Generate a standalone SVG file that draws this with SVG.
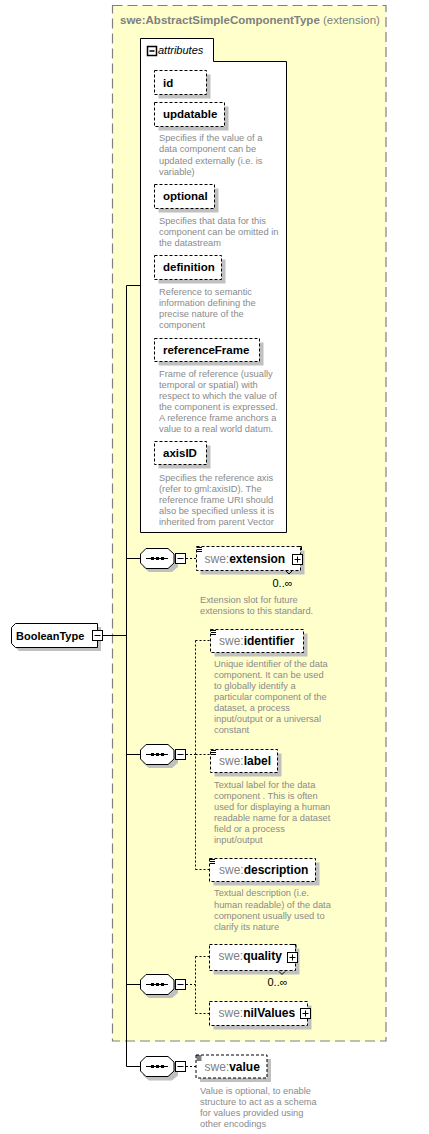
<svg xmlns="http://www.w3.org/2000/svg" width="429" height="1134" viewBox="0 0 429 1134">
<defs>
<style>
text{font-family:"Liberation Sans",Arial,sans-serif}
.title{font-size:11.5px;fill:#808080}
.tb{font-weight:bold}
.doc{font-size:9.3px;fill:#8a8a8a}
.att{font-size:11.5px;font-weight:bold;fill:#000}
.el{font-size:12px}
.pre{fill:#808080}
.nm{font-weight:bold;fill:#000}
.occ{font-size:11px;fill:#000}
.box{fill:#fff;stroke:#000;stroke-width:1;stroke-dasharray:3 2}
.sh{fill:#c0c0c0}
.solid{fill:none;stroke:#000;stroke-width:1}
.dash{fill:none;stroke:#000;stroke-width:1;stroke-dasharray:2 2}
.icon{fill:#fff;stroke:#000;stroke-width:1}
</style>
<g id="seq">
<polygon points="4,4 38,4 38,20 4,20" fill="none"/>
</g>
</defs>
<rect width="429" height="1134" fill="#fff"/>

<g id="extension-region">
<rect x="112.5" y="5.5" width="273.5" height="1035.5" fill="#ffffcc" stroke="#808080" stroke-width="1.2" stroke-dasharray="10 5"/>
<text class="title" x="120" y="24"><tspan class="tb">swe:AbstractSimpleComponentType</tspan> (extension)</text>
</g>

<g id="connectors">
<path class="solid" d="M102.5,635.5 H126.5 M126.5,285.5 V1066.5 M126.5,285.5 H140 M126.5,558.5 H140 M126.5,754.5 H140 M126.5,984.5 H140 M126.5,1066.5 H140"/>
<path class="dash" d="M186,558.5 H196"/>
<path class="dash" d="M186,754.5 H195.5 M195.5,640.5 V869.5 M195.5,640.5 H210 M195.5,754.5 H210 M195.5,869.5 H209.5"/>
<path class="dash" d="M186,984.5 H195.5 M195.5,956.5 V1013.5 M195.5,956.5 H209.5 M195.5,1013.5 H209.5"/>
<path class="dash" d="M186,1066.5 H196"/>
</g>

<g id="BooleanType">
<path class="sh" d="M19,627 H101 V651 H19 L15,647 V631 Z"/>
<path d="M15.5,623.5 H97.5 V647.5 H15.5 L11.5,643.5 V627.5 Z" fill="#fff" stroke="#000"/>
<text x="16" y="639.5" font-size="11" font-weight="bold">BooleanType</text>
<rect class="icon" x="92.5" y="630.5" width="10" height="10"/>
<path class="solid" d="M94.5,635.5 H100.5"/>
</g>

<g id="attributes">
<path d="M140.5,38.5 H213.5 V61.5 H286.5 V532.5 H140.5 Z" fill="#fff" stroke="#000"/>
<rect x="147.5" y="46.5" width="9" height="9" fill="#fff" stroke="#000" stroke-width="1.5"/>
<path d="M149.5,51 H154.5" stroke="#000" stroke-width="1.5"/>
<text x="158" y="54" font-size="11" font-style="italic">attributes</text>
</g>

<g id="attr-id">
<rect class="sh" x="158.5" y="74.5" width="52" height="24"/>
<rect class="box" x="154.5" y="70.5" width="52" height="24"/>
<text class="att" x="163" y="86.5">id</text>
</g>

<g id="attr-updatable">
<rect class="sh" x="158.5" y="106.5" width="70" height="24"/>
<rect class="box" x="154.5" y="102.5" width="70" height="24"/>
<text class="att" x="163" y="118">updatable</text>
<text class="doc" x="159"><tspan x="159" y="141">Specifies if the value of a</tspan><tspan x="159" y="152">data component can be</tspan><tspan x="159" y="163.5">updated externally (i.e. is</tspan><tspan x="159" y="175">variable)</tspan></text>
</g>

<g id="attr-optional">
<rect class="sh" x="158.5" y="188.5" width="60" height="24"/>
<rect class="box" x="154.5" y="184.5" width="60" height="24"/>
<text class="att" x="163" y="200">optional</text>
<text class="doc"><tspan x="159" y="224">Specifies that data for this</tspan><tspan x="159" y="235">component can be omitted in</tspan><tspan x="159" y="246">the datastream</tspan></text>
</g>

<g id="attr-definition">
<rect class="sh" x="158.5" y="259.5" width="67" height="24"/>
<rect class="box" x="154.5" y="255.5" width="67" height="24"/>
<text class="att" x="163" y="271">definition</text>
<text class="doc"><tspan x="159" y="295">Reference to semantic</tspan><tspan x="159" y="306">information defining the</tspan><tspan x="159" y="317">precise nature of the</tspan><tspan x="159" y="328">component</tspan></text>
</g>

<g id="attr-referenceFrame">
<rect class="sh" x="158.5" y="342.5" width="105" height="23"/>
<rect class="box" x="154.5" y="338.5" width="105" height="23"/>
<text class="att" x="163" y="353.5">referenceFrame</text>
<text class="doc"><tspan x="159" y="377">Frame of reference (usually</tspan><tspan x="159" y="388">temporal or spatial) with</tspan><tspan x="159" y="399">respect to which the value of</tspan><tspan x="159" y="410">the component is expressed.</tspan><tspan x="159" y="421">A reference frame anchors a</tspan><tspan x="159" y="432">value to a real world datum.</tspan></text>
</g>

<g id="attr-axisID">
<rect class="sh" x="158.5" y="445.5" width="52" height="23"/>
<rect class="box" x="154.5" y="441.5" width="52" height="23"/>
<text class="att" x="163" y="457">axisID</text>
<text class="doc"><tspan x="159" y="481">Specifies the reference axis</tspan><tspan x="159" y="492">(refer to gml:axisID). The</tspan><tspan x="159" y="503">reference frame URI should</tspan><tspan x="159" y="514">also be specified unless it is</tspan><tspan x="159" y="525">inherited from parent Vector</tspan></text>
</g>

<g id="sequence-1">
<polygon class="sh" points="149,552 172,552 178,558 178,567 172,572 149,572 143,567 143,558"/>
<polygon points="146,548.5 168,548.5 174,554 174,563 168,568.5 146,568.5 140.5,563 140.5,554" fill="#fff" stroke="#000"/>
<path class="solid" d="M146,558.5 H168"/>
<rect x="151" y="557" width="3" height="3"/><rect x="156" y="557" width="3" height="3"/><rect x="161" y="557" width="3" height="3"/>
<rect class="icon" x="175.5" y="553.5" width="10" height="10"/>
<path class="solid" d="M177.5,558.5 H183.5"/>
</g>

<g id="el-extension">
<rect class="sh" x="200.5" y="550.5" width="104" height="24"/>
<rect class="box" x="196.5" y="546.5" width="104" height="24"/>
<path class="solid" d="M297,546.5 H301.5 V550 M286,571 L289,574 L292,571"/>
<path class="solid" d="M197,547.5 H202 M197,549.5 H202 M197,551.5 H202"/>
<text class="el" x="204.5" y="562.5"><tspan class="pre">swe:</tspan><tspan class="nm">extension</tspan></text>
<rect class="icon" x="292.5" y="554.5" width="10" height="10"/>
<path class="solid" d="M294.5,559.5 H300.5 M297.5,556.5 V562.5"/>
<text class="occ" x="272.5" y="587">0..∞</text>
<text class="doc"><tspan x="200" y="603">Extension slot for future</tspan><tspan x="200" y="614">extensions to this standard.</tspan></text>
</g>

<g id="sequence-2">
<polygon class="sh" points="149,748 172,748 178,754 178,763 172,768 149,768 143,763 143,754"/>
<polygon points="146,744.5 168,744.5 174,750 174,759 168,764.5 146,764.5 140.5,759 140.5,750" fill="#fff" stroke="#000"/>
<path class="solid" d="M146,754.5 H168"/>
<rect x="151" y="753" width="3" height="3"/><rect x="156" y="753" width="3" height="3"/><rect x="161" y="753" width="3" height="3"/>
<rect class="icon" x="175.5" y="749.5" width="10" height="10"/>
<path class="solid" d="M177.5,754.5 H183.5"/>
</g>

<g id="el-identifier">
<rect class="sh" x="214.5" y="633.5" width="93" height="23"/>
<rect class="box" x="210.5" y="629.5" width="93" height="23"/>
<path class="solid" d="M211,630.5 H216 M211,632.5 H216 M211,634.5 H216"/>
<text class="el" x="219" y="645"><tspan class="pre">swe:</tspan><tspan class="nm">identifier</tspan></text>
<text class="doc"><tspan x="214" y="667">Unique identifier of the data</tspan><tspan x="214" y="678">component. It can be used</tspan><tspan x="214" y="689">to globally identify a</tspan><tspan x="214" y="700">particular component of the</tspan><tspan x="214" y="711">dataset, a process</tspan><tspan x="214" y="722">input/output or a universal</tspan><tspan x="214" y="733">constant</tspan></text>
</g>

<g id="el-label">
<rect class="sh" x="214.5" y="753.5" width="67" height="23"/>
<rect class="box" x="210.5" y="749.5" width="67" height="23"/>
<path class="solid" d="M211,750.5 H216 M211,752.5 H216 M211,754.5 H216"/>
<text class="el" x="219" y="764.5"><tspan class="pre">swe:</tspan><tspan class="nm">label</tspan></text>
<text class="doc"><tspan x="214" y="788">Textual label for the data</tspan><tspan x="214" y="799">component . This is often</tspan><tspan x="214" y="810">used for displaying a human</tspan><tspan x="214" y="821">readable name for a dataset</tspan><tspan x="214" y="832">field or a process</tspan><tspan x="214" y="843">input/output</tspan></text>
</g>

<g id="el-description">
<rect class="sh" x="213.5" y="862.5" width="106" height="23"/>
<rect class="box" x="209.5" y="858.5" width="106" height="23"/>
<path class="solid" d="M210,859.5 H215 M210,861.5 H215 M210,863.5 H215"/>
<text class="el" x="219" y="873.5"><tspan class="pre">swe:</tspan><tspan class="nm">description</tspan></text>
<text class="doc"><tspan x="214" y="896">Textual description (i.e.</tspan><tspan x="214" y="908">human readable) of the data</tspan><tspan x="214" y="919">component usually used to</tspan><tspan x="214" y="930">clarify its nature</tspan></text>
</g>

<g id="sequence-3">
<polygon class="sh" points="149,978 172,978 178,984 178,993 172,998 149,998 143,993 143,984"/>
<polygon points="146,974.5 168,974.5 174,980 174,989 168,994.5 146,994.5 140.5,989 140.5,980" fill="#fff" stroke="#000"/>
<path class="solid" d="M146,984.5 H168"/>
<rect x="151" y="983" width="3" height="3"/><rect x="156" y="983" width="3" height="3"/><rect x="161" y="983" width="3" height="3"/>
<rect class="icon" x="175.5" y="979.5" width="10" height="10"/>
<path class="solid" d="M177.5,984.5 H183.5"/>
</g>

<g id="el-quality">
<rect class="sh" x="213.5" y="948.5" width="86" height="26"/>
<rect class="box" x="209.5" y="944.5" width="86" height="26"/>
<path class="solid" d="M292,944.5 H296 V948 M279,971.5 L282,974.5 L285,971.5"/>
<text class="el" x="218.5" y="960"><tspan class="pre">swe:</tspan><tspan class="nm">quality</tspan></text>
<rect class="icon" x="287.5" y="952.5" width="10" height="10"/>
<path class="solid" d="M289.5,957.5 H295.5 M292.5,954.5 V960.5"/>
<text class="occ" x="267.5" y="986">0..∞</text>
</g>

<g id="el-nilValues">
<rect class="sh" x="213.5" y="1005.5" width="98" height="24"/>
<rect class="box" x="209.5" y="1001.5" width="98" height="24"/>
<text class="el" x="218.5" y="1017"><tspan class="pre">swe:</tspan><tspan class="nm">nilValues</tspan></text>
<rect class="icon" x="300.5" y="1008.5" width="10" height="10"/>
<path class="solid" d="M302.5,1013.5 H308.5 M305.5,1010.5 V1016.5"/>
</g>

<g id="sequence-4">
<polygon class="sh" points="149,1060.5 172,1060.5 178,1066.5 178,1075.5 172,1080.5 149,1080.5 143,1075.5 143,1066.5"/>
<polygon points="146,1056.5 168,1056.5 174,1062 174,1071 168,1076.5 146,1076.5 140.5,1071 140.5,1062" fill="#fff" stroke="#000"/>
<path class="solid" d="M146,1066.5 H168"/>
<rect x="151" y="1065" width="3" height="3"/><rect x="156" y="1065" width="3" height="3"/><rect x="161" y="1065" width="3" height="3"/>
<rect class="icon" x="175.5" y="1061.5" width="10" height="10"/>
<path class="solid" d="M177.5,1066.5 H183.5"/>
</g>

<g id="el-value">
<rect class="sh" x="200" y="1059" width="71" height="23"/>
<rect class="box" x="196" y="1055" width="71" height="23"/>
<path class="solid" d="M196.5,1056 H201.5 M196.5,1058 H201.5 M196.5,1060 H201.5"/>
<text class="el" x="204.5" y="1070.5"><tspan class="pre">swe:</tspan><tspan class="nm">value</tspan></text>
<text class="doc"><tspan x="200" y="1094">Value is optional, to enable</tspan><tspan x="200" y="1105">structure to act as a schema</tspan><tspan x="200" y="1116">for values provided using</tspan><tspan x="200" y="1127">other encodings</tspan></text>
</g>
</svg>
